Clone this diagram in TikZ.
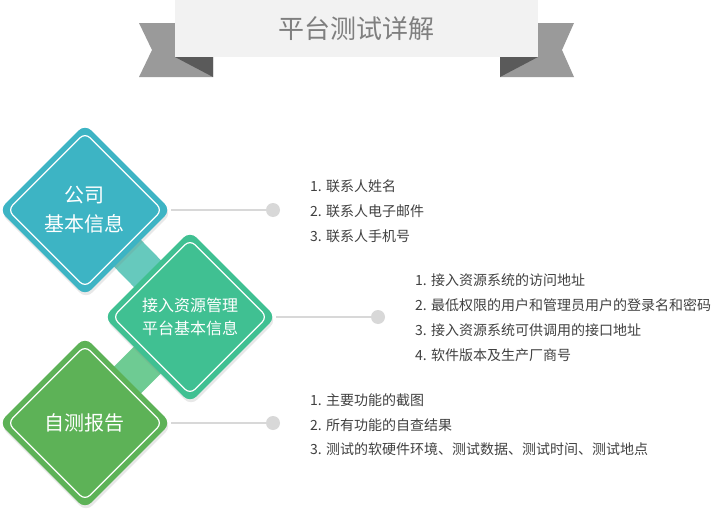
\documentclass[tikz,border=0pt]{standalone}
\usepackage{fontspec}
\setmainfont{Noto Sans CJK SC}
\usetikzlibrary{shapes.geometric,shadows,backgrounds}
\definecolor{ribbon}{HTML}{9A9A9A}
\definecolor{fold}{HTML}{5A5A5A}
\definecolor{bannerbg}{HTML}{F2F2F2}
\definecolor{titlegray}{HTML}{7F7F7F}
\definecolor{cteal}{HTML}{3DB4C4}
\definecolor{cmint}{HTML}{40C092}
\definecolor{cgreen}{HTML}{5DB257}
\definecolor{bandA}{HTML}{66C9BD}
\definecolor{bandB}{HTML}{6ECB93}
\definecolor{lgray}{HTML}{D8D8D8}
\definecolor{tgray}{HTML}{404040}
\begin{document}
\begin{tikzpicture}[x=1pt,y=-1pt,
	dia/.style={diamond, aspect=1, minimum size=172pt, inner sep=0pt, rounded corners=9pt, text=white, align=center, drop shadow={shadow xshift=1pt,shadow yshift=-3pt,opacity=0.18}},
	rim/.style={diamond, aspect=1, minimum size=155pt, inner sep=0pt, draw=white, line width=1.2pt, rounded corners=7pt},
	dot/.style={circle, fill=lgray, minimum size=14pt, inner sep=0pt},
	item/.style={anchor=west, inner sep=0pt, text=tgray, font=\fontsize{14}{16}\selectfont}]
	\useasboundingbox (0,0) rectangle (713,514);
	
	% banner
	\fill[ribbon] (139,23) -- (213,23) -- (213,77) -- (139,77) -- (152,50) -- cycle;
	\fill[fold] (175,57) -- (213,57) -- (213,77) -- cycle;
	\fill[ribbon] (574,23) -- (500,23) -- (500,77) -- (574,77) -- (562,50) -- cycle;
	\fill[fold] (538,57) -- (500,57) -- (500,77) -- cycle;
	\node[fill=bannerbg, inner sep=0pt, minimum width=363pt, minimum height=57pt, text=titlegray, font=\fontsize{26}{30}\selectfont] (t) at (356.5,28.5) {平台测试详解};
	
	\node[dia, fill=cteal, font=\fontsize{20}{29}\selectfont] (co) at (85,210) {公司\\基本信息};
	\node[rim] (co-r) at (co) {};
	\node[dia, fill=cmint, font=\fontsize{16}{23}\selectfont] (pf) at (190,317) {接入资源管理\\平台基本信息};
	\node[rim] (pf-r) at (pf) {};
	\node[dia, fill=cgreen, font=\fontsize{20}{29}\selectfont] (rp) at (85,423) {自测报告};
	\node[rim] (rp-r) at (rp) {};
	
	\begin{scope}[on background layer]
		\draw[bandA, line width=38pt] (co.center) -- (pf.center);
		\draw[bandB, line width=38pt] (pf.center) -- (rp.center);
	\end{scope}
	
	\node[dot] (pa) at (273,210) {};
	\node[dot] (pb) at (378,317) {};
	\node[dot] (pc) at (273,423) {};
	\draw[lgray, line width=1.6pt] (co.east) -- (pa);
	\draw[lgray, line width=1.6pt] (pf.east) -- (pb);
	\draw[lgray, line width=1.6pt] (rp.east) -- (pc);
	
	\node[item] (a1) at (310,186) {1. 联系人姓名};
	\node[item] (a2) at (310,211) {2. 联系人电子邮件};
	\node[item] (a3) at (310,236) {3. 联系人手机号};
	
	\node[item] (b1) at (415,280) {1. 接入资源系统的访问地址};
	\node[item] (b2) at (415,305) {2. 最低权限的用户和管理员用户的登录名和密码};
	\node[item] (b3) at (415,330) {3. 接入资源系统可供调用的接口地址};
	\node[item] (b4) at (415,355) {4. 软件版本及生产厂商号};
	
	\node[item] (c1) at (310,400) {1. 主要功能的截图};
	\node[item] (c2) at (310,425) {2. 所有功能的自查结果};
	\node[item] (c3) at (310,449) {3. 测试的软硬件环境、测试数据、测试时间、测试地点};
\end{tikzpicture}
\end{document}
